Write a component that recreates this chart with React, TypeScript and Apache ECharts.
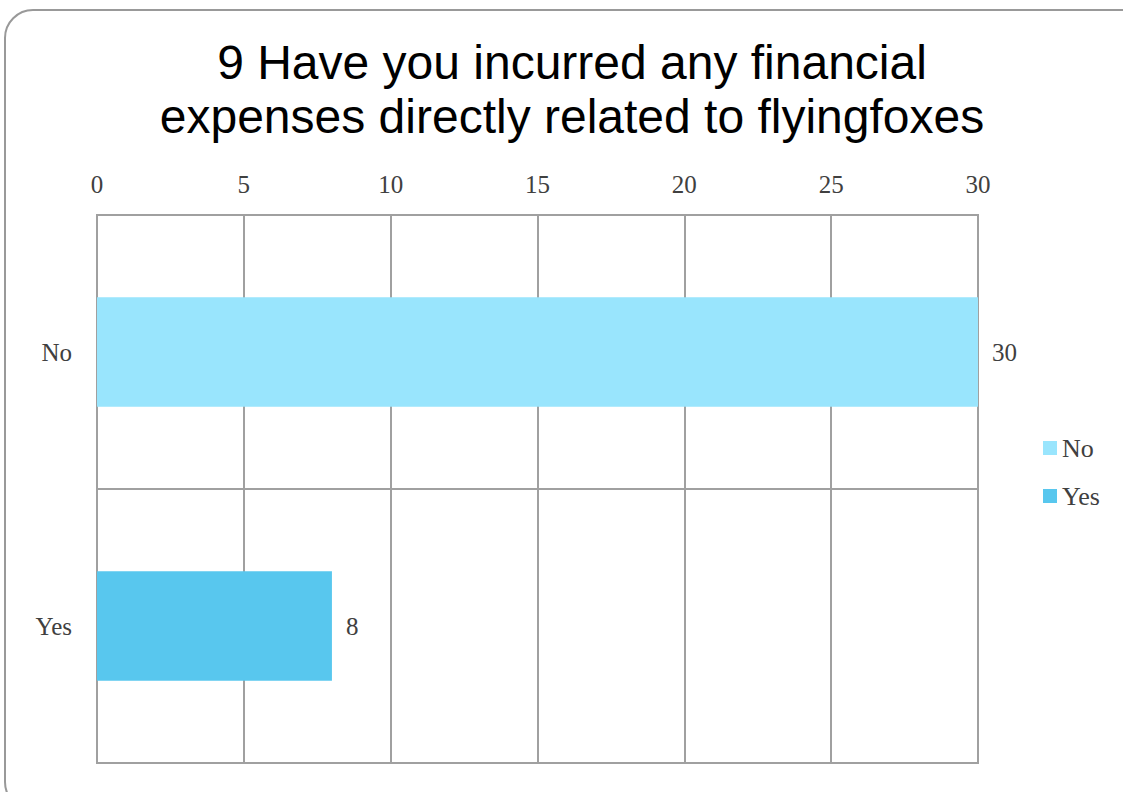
import React, { useEffect, useRef } from "react";
import * as echarts from "echarts";

const categories = ["No", "Yes"];
const noValues = [30, null];
const yesValues = [null, 8];
const xTicks = { min: 0, max: 30, interval: 5 };
const titleText = "9 Have you incurred any financial\nexpenses directly related to flyingfoxes";

export default function App() {
  const ref = useRef<HTMLDivElement>(null);
  useEffect(() => {
    if (!ref.current) return;
    const chart = echarts.init(ref.current, null, { renderer: "svg" });
    const serif = "Liberation Serif";
    const textColor = "#404040";
    const gridColor = "#a0a0a0";
    const fs = 25;
    chart.setOption({
      animation: false,
      backgroundColor: "#ffffff",
      title: {
        text: titleText,
        left: 567,
        textAlign: "center",
        top: 30,
        textStyle: {
          fontFamily: "Liberation Sans",
          fontSize: 48,
          fontWeight: "normal",
          color: "#000000",
          lineHeight: 54,
        },
      },
      legend: {
        orient: "vertical",
        left: 1038,
        top: 430,
        itemWidth: 14,
        itemHeight: 14,
        itemGap: 22,
        icon: "rect",
        textStyle: { fontFamily: serif, fontSize: 26, color: textColor },
        data: ["No", "Yes"],
      },
      grid: { left: 97, right: 145, top: 215, bottom: 29, containLabel: false },
      xAxis: {
        type: "value",
        position: "top",
        min: xTicks.min,
        max: xTicks.max,
        interval: xTicks.interval,
        axisLine: { show: false },
        axisTick: { show: false },
        axisLabel: { fontFamily: serif, fontSize: fs, color: textColor, margin: 18 },
        splitLine: { show: true, lineStyle: { color: gridColor, width: 2 } },
      },
      yAxis: {
        type: "category",
        data: categories,
        inverse: true,
        axisLine: { show: true, lineStyle: { color: gridColor, width: 2 } },
        axisTick: { show: false },
        axisLabel: { fontFamily: serif, fontSize: fs, color: textColor, margin: 25 },
        splitLine: { show: true, lineStyle: { color: gridColor, width: 2 } },
      },
      series: [
        {
          name: "No",
          type: "bar",
          stack: "all",
          data: noValues,
          barWidth: "40%",
          itemStyle: { color: "#99e5fd" },
          label: { show: true, position: "right", distance: 14, fontFamily: serif, fontSize: fs, color: textColor },
        },
        {
          name: "Yes",
          type: "bar",
          stack: "all",
          data: yesValues,
          barWidth: "40%",
          itemStyle: { color: "#58c7ee" },
          label: { show: true, position: "right", distance: 14, fontFamily: serif, fontSize: fs, color: textColor },
        },
      ],
      graphic: [
        {
          type: "rect",
          shape: { x: 5, y: 10, width: 1150, height: 800, r: 28 },
          style: { fill: "none", stroke: "#999999", lineWidth: 2 },
          silent: true,
          z: 100,
        },
        {
          type: "rect",
          shape: { x: 97, y: 215, width: 881, height: 548 },
          style: { fill: "none", stroke: gridColor, lineWidth: 2 },
          silent: true,
          z: 1,
        },
      ],
    });
    return () => chart.dispose();
  }, []);
  return <div ref={ref} style={{ position: "fixed", left: 0, top: 0, width: 1123, height: 792 }} />;
}
